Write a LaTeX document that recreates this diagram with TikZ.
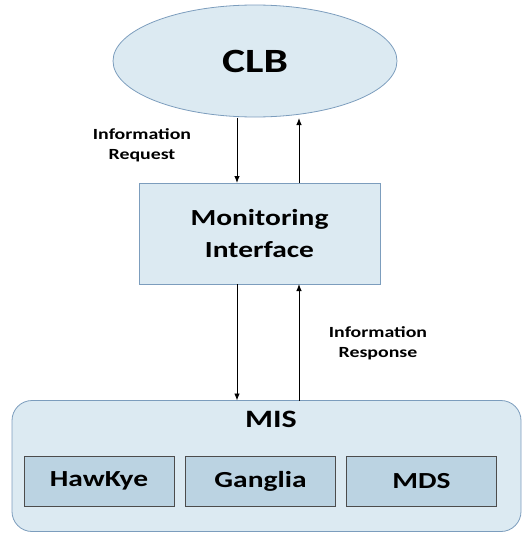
\documentclass[tikz,border=0pt]{standalone}
\usepackage{fontspec}
\setmainfont{Carlito}[FakeStretch=1.28]
\usetikzlibrary{shapes.geometric,arrows.meta}
\definecolor{paleblue}{HTML}{DCEAF2}
\definecolor{midblue}{HTML}{BBD3E2}
\definecolor{edgeblue}{HTML}{7C9DBD}
\begin{document}
\begin{tikzpicture}[x=1pt,y=-1pt,
  every node/.style={inner sep=0pt,outer sep=0pt,font=\bfseries,text=black},
  blob/.style={ellipse,draw=edgeblue,fill=paleblue,line width=0.8pt,
    minimum width=284pt,minimum height=112pt},
  panel/.style={rectangle,draw=edgeblue,fill=paleblue,line width=0.8pt},
  tool/.style={rectangle,draw=black!70,fill=midblue,line width=0.8pt,
    minimum width=150pt,minimum height=50pt,font=\bfseries\fontsize{23}{26}\selectfont},
  flow/.style={line width=0.9pt,-{Latex[length=7pt,width=5.5pt]}},
  note/.style={align=center,font=\bfseries\fontsize{15.5}{20}\selectfont}]
  \useasboundingbox (0,0) rectangle (523,533);

  % controller
  \node[blob] (clb) at (255,61) {\fontsize{34}{36}\selectfont CLB};

  % interface layer
  \node[panel,minimum width=241pt,minimum height=101pt,align=center,
        font=\bfseries\fontsize{23}{32}\selectfont] (mi) at (259.5,233.5)
        {Monitoring\\Interface};

  % information services container
  \node[panel,rounded corners=20pt,minimum width=509pt,minimum height=131pt]
        (mis) at (266.5,466) {};
  \node[font=\bfseries\fontsize{25}{28}\selectfont] (mistitle) at (271,419) {MIS};
  \node[tool] (hk) at (99,481) {HawKye};
  \node[tool] (gg) at (260.5,481) {Ganglia};
  \node[tool] (mds) at (421.5,481) {MDS};

  % message lanes
  \coordinate (down) at (237,0);
  \coordinate (up) at (299,0);
  \draw[flow] ([yshift=-0.5pt]clb.south -| down) -- (mi.north -| down);
  \draw[flow] (mi.north -| up) -- ([yshift=-1pt]clb.south -| up);
  \draw[flow] (mi.south -| down) -- (mis.north -| down);
  \draw[flow] (mis.north -| up) -- (mi.south -| up);

  % labels
  \node[note] (req) at (142,145) {Information\\Request};
  \node[note] (resp) at (378,343) {Information\\Response};
\end{tikzpicture}
\end{document}
